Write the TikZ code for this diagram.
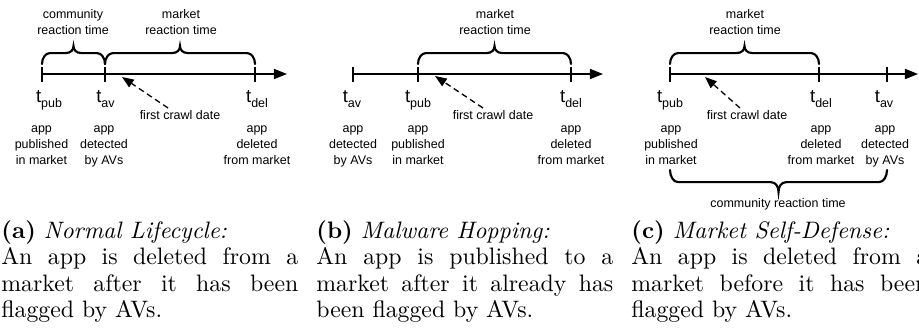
\documentclass[tikz,border=0pt]{standalone}
\usepackage{graphicx}
\usepackage{fontspec}
\setsansfont{Liberation Sans}
\usetikzlibrary{arrows.meta,calc}

% a time label such as t_pub
\newcommand{\tsub}[2]{#1\raisebox{-2.4pt}{\fontsize{6.4}{7}\selectfont #2}}
% a centred stack of lines whose baseline is the first line
\newcommand{\lines}[1]{\begin{tabular}[t]{@{}c@{}}#1\end{tabular}}
% curly brace between two named points: #3 height of the flat part, #4 height of the tip
\newcommand{\curlybrace}[4]{%
  \draw[bracemark] (#1)
    .. controls ($(#1)+(0,{0.55*(#3)})$) and ($(#1)+(1.8pt,#3)$) .. ($(#1)+(4.1pt,#3)$)
    -- ($(#1)!0.5!(#2)+(-4.1pt,#3)$)
    .. controls ($(#1)!0.5!(#2)+(-1.2pt,#3)$) and ($(#1)!0.5!(#2)+(0,{(#3)+0.5*((#4)-(#3))})$) .. ($(#1)!0.5!(#2)+(0,#4)$)
    .. controls ($(#1)!0.5!(#2)+(0,{(#3)+0.5*((#4)-(#3))})$) and ($(#1)!0.5!(#2)+(1.2pt,#3)$) .. ($(#1)!0.5!(#2)+(4.1pt,#3)$)
    -- ($(#2)+(-4.1pt,#3)$)
    .. controls ($(#2)+(-1.8pt,#3)$) and ($(#2)+(0,{0.55*(#3)})$) .. (#2);}
% caption block
\newcommand{\subcap}[3]{\scalebox{1.22}{\parbox[t]{124.8pt}{\fontsize{10}{11.14}\selectfont
  \tolerance=10000\hyphenpenalty=10000\textbf{#1} \textit{#2}\\#3}}}

\tikzset{
  axisline/.style={line width=0.6pt,-{Triangle[length=6.7pt,width=5.2pt]}},
  tickmark/.style={line width=0.6pt},
  bracemark/.style={line width=1.1pt,line cap=round},
  crawl/.style={line width=0.65pt,dash pattern=on 3pt off 2pt,-{Triangle[length=6pt,width=4.6pt]}},
  desc/.style={font=\sffamily\fontsize{6.4}{8.2}\selectfont,inner sep=0,anchor=base},
  tlab/.style={font=\sffamily\fontsize{9.5}{11}\selectfont,inner sep=0,anchor=base},
  capt/.style={inner sep=0,anchor=base west},
}

\begin{document}
\begin{tikzpicture}[x=0.5128pt,y=-0.5128pt]
\useasboundingbox (0,0) rectangle (919,329);

% ---------------- (a) normal lifecycle ----------------
\coordinate (a1) at (42,74);
\coordinate (a2) at (105,74);
\coordinate (a3) at (255,74);
\coordinate (aend) at (287,74);
\draw[axisline] (a1) -- (aend);
\foreach \p in {a1,a2,a3} \draw[tickmark] (\p) ++(0,-7) -- ++(0,15);
\coordinate (ab1) at (42,64);
\coordinate (ab2) at (105,64);
\coordinate (ab3) at (255,64);
\curlybrace{ab1}{ab2}{5.6pt}{9.2pt}
\curlybrace{ab2}{ab3}{5.6pt}{9.2pt}
\node[desc] (acomm) at (73,19) {\lines{community\\reaction time}};
\node[desc] (amark) at (181,19) {\lines{market\\reaction time}};
\node[tlab] (atpub) at (49,103) {\tsub{t}{pub}};
\node[tlab] (atav) at (105.5,103) {\tsub{t}{av}};
\node[tlab] (atdel) at (257,103) {\tsub{t}{del}};
\node[desc] (adpub) at (41.5,133) {\lines{app\\published\\in market}};
\node[desc] (adav) at (104,133) {\lines{app\\detected\\by AVs}};
\node[desc] (addel) at (257,133) {\lines{app\\deleted\\from market}};
\node[desc] (acrawl) at (180,120) {first crawl date};
\coordinate (acs) at (168,108);
\coordinate (act) at (122,77);
\draw[crawl] (acs) -- (act);

% ---------------- (b) malware hopping ----------------
\coordinate (b1) at (353,74);
\coordinate (b2) at (418,74);
\coordinate (b3) at (571,74);
\coordinate (bend) at (603,74);
\draw[axisline] (b1) -- (bend);
\foreach \p in {b1,b2,b3} \draw[tickmark] (\p) ++(0,-7) -- ++(0,15);
\coordinate (bb2) at (418,64);
\coordinate (bb3) at (571,64);
\curlybrace{bb2}{bb3}{5.6pt}{9.2pt}
\node[desc] (bmark) at (495,19) {\lines{market\\reaction time}};
\node[tlab] (btav) at (352,103) {\tsub{t}{av}};
\node[tlab] (btpub) at (418,103) {\tsub{t}{pub}};
\node[tlab] (btdel) at (571,103) {\tsub{t}{del}};
\node[desc] (bdav) at (353,133) {\lines{app\\detected\\by AVs}};
\node[desc] (bdpub) at (418,133) {\lines{app\\published\\in market}};
\node[desc] (bddel) at (571,133) {\lines{app\\deleted\\from market}};
\node[desc] (bcrawl) at (493,120) {first crawl date};
\coordinate (bcs) at (483,108);
\coordinate (bct) at (435,76);
\draw[crawl] (bcs) -- (bct);

% ---------------- (c) market self-defense ----------------
\coordinate (c1) at (670,74);
\coordinate (c2) at (819,74);
\coordinate (c3) at (887,74);
\coordinate (cend) at (918,74);
\draw[axisline] (c1) -- (cend);
\foreach \p in {c1,c2,c3} \draw[tickmark] (\p) ++(0,-7) -- ++(0,15);
\coordinate (cb1) at (670,64);
\coordinate (cb2) at (819,64);
\curlybrace{cb1}{cb2}{5.6pt}{9.2pt}
\node[desc] (cmark) at (745,19) {\lines{market\\reaction time}};
\node[tlab] (ctpub) at (670,103) {\tsub{t}{pub}};
\node[tlab] (ctdel) at (821,103) {\tsub{t}{del}};
\node[tlab] (ctav) at (884,103) {\tsub{t}{av}};
\node[desc] (cdpub) at (671,133) {\lines{app\\published\\in market}};
\node[desc] (cddel) at (821,133) {\lines{app\\deleted\\from market}};
\node[desc] (cdav) at (885,133) {\lines{app\\detected\\by AVs}};
\node[desc] (ccrawl) at (747,120) {first crawl date};
\coordinate (ccs) at (740,108);
\coordinate (cct) at (705,77);
\draw[crawl] (ccs) -- (cct);
\coordinate (cl1) at (670,170);
\coordinate (cl3) at (887,170);
\curlybrace{cl1}{cl3}{-6.2pt}{-11.3pt}
\node[desc] (ccomm) at (778,207) {community reaction time};

% ---------------- captions ----------------
\node[capt] (capa) at (1,238) {\subcap{(a)}{Normal Lifecycle:}{An app is deleted from a\linebreak market after it has been\linebreak flagged by AVs.}};
\node[capt] (capb) at (316,238) {\subcap{(b)}{Malware Hopping:}{An app is published to a\linebreak market after it already has\linebreak been flagged by AVs.}};
\node[capt] (capc) at (631,238) {\subcap{(c)}{Market Self-Defense:}{An app is deleted from a\linebreak market before it has been\linebreak flagged by AVs.}};
\end{tikzpicture}
\end{document}
